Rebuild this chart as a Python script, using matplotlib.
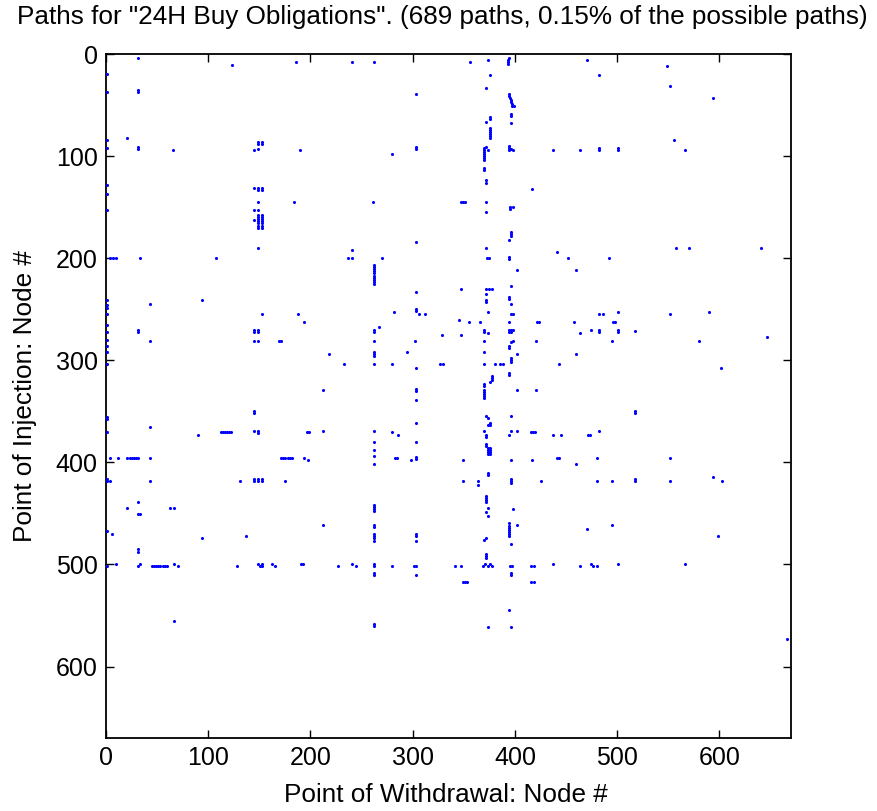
import matplotlib
matplotlib.use("Agg")
import matplotlib.pyplot as plt
import numpy as np

# (withdrawal node, injection node) pairs
paths_top = [
    (31,4),(123,11),(186,8),(241,8),
    (1,20),(1,37),(31,35),(31,37),(21,82),(1,84),(1,92),(31,91),(31,93),(66,94),(145,94),
    (149,86),(149,88),(153,86),(153,88),(149,93),(190,94),
    (1,128),(1,137),(1,153),(145,131),(149,131),(149,133),(153,131),(153,133),(149,145),(184,145),
    (145,153),(149,153),(145,163),
    (149,158),(149,160),(149,162),(149,164),(149,166),(149,168),(149,170),
    (153,158),(153,160),(153,162),(153,164),(153,166),(153,168),(153,170),
    (149,190),(241,192),(237,200),(241,200),(4,200),(7,200),(10,200),(33,200),(108,200),
    (262,8),(356,8),(374,6),(394,4),(393,6),(393,8),(393,10),(470,6),(376,21),(482,21),(372,33),(303,39),
    (394,39),(394,41),(395,43),(396,45),(396,47),(397,49),(397,51),(399,51),
    (396,59),(396,61),(396,68),(376,62),(376,64),(372,67),
    (376,72),(376,74),(376,76),(376,78),(376,80),(376,82),
    (303,91),(303,93),(280,98),
    (370,92),(370,94),(370,96),(370,98),(370,100),(370,102),(370,104),(372,91),(374,94),
    (394,90),(394,92),(396,93),(398,94),(394,94),
    (437,94),(464,94),(482,92),(482,94),
    (370,112),(370,114),(372,123),(372,126),(417,132),(261,145),(347,145),(349,145),(351,145),
    (372,145),(372,155),(395,150),(398,150),(395,152),
    (396,174),(396,176),(396,178),(394,182),(303,184),(372,190),(441,194),(452,200),(492,200),
    (270,200),(373,200),(375,200),(394,199),(394,201),(402,212),(460,212),
    (262,207),(262,209),(262,211),(262,213),(262,215),
    (549,12),(552,31),(594,43),(556,84),(566,94),(501,92),(501,94),(558,190),(570,190),(641,190),
]

paths_mid = [
    (1,241),(1,246),(1,249),(1,255),(1,265),(1,272),(1,280),(1,286),(1,292),(1,304),
    (43,245),(94,241),(31,270),(31,272),(43,281),(153,255),(188,255),(194,263),
    (145,270),(145,272),(149,270),(149,272),(145,281),(149,281),(169,281),(171,281),
    (218,294),(233,304),(212,329),
    (1,356),(1,358),(1,370),(145,350),(145,352),(43,365),(90,373),
    (112,370),(114,370),(116,370),(118,370),(120,370),(122,370),(145,369),(149,369),(149,371),
    (197,370),(199,370),(212,369),
    (4,396),(12,396),(21,396),(23,396),(25,396),(27,396),(29,396),(31,396),(43,396),
    (171,396),(173,396),(175,396),(178,396),(180,396),(182,396),(194,396),(198,398),
    (1,416),(1,418),(4,418),(43,418),(131,418),(145,416),(145,418),(149,416),(149,418),
    (153,416),(153,418),(175,418),
    (31,439),(21,445),(63,445),(67,445),
    (262,217),(262,219),(262,221),(262,223),(262,225),
    (303,233),(347,230),(372,230),(375,230),(378,230),(396,227),(372,235),(372,241),(372,243),
    (394,238),(394,240),(396,245),
    (282,253),(303,250),(303,252),(306,255),(312,255),(374,253),(396,255),(398,255),
    (345,261),(355,263),(366,263),(394,263),(422,263),(424,263),(458,263),(482,255),(486,255),
    (496,263),(498,263),
    (267,267),(262,270),(262,272),(329,275),(347,275),(370,270),(370,272),(374,273),
    (394,270),(396,270),(398,270),(394,272),(396,272),
    (464,273),(474,270),(482,270),(482,272),
    (262,281),(302,281),(370,281),(398,281),(396,282),(421,281),(495,281),
    (394,286),(394,288),(262,292),(262,294),(262,296),(294,292),(370,292),(402,294),(460,294),
    (396,298),(396,300),(396,302),
    (262,304),(280,304),(327,304),(330,304),(370,304),(380,304),(385,304),(388,304),(443,304),
    (303,308),(394,312),(394,314),(378,315),(378,317),(378,319),(376,321),(370,323),(370,325),
    (303,328),(303,330),(402,329),(421,329),
    (370,329),(370,331),(370,333),(370,335),(370,337),(303,339),
    (372,355),(374,357),(396,355),(374,363),(376,363),(376,361),(303,361),
    (262,369),(280,370),(286,373),(370,369),(396,369),(402,369),(416,370),(418,370),(420,370),
    (394,373),(437,373),(445,373),(471,373),(473,373),(482,369),
    (372,373),(372,375),(262,380),(303,380),(372,382),(372,384),(262,388),(262,394),
    (374,386),(374,388),(374,390),(374,392),(376,386),(376,388),(376,390),(376,392),
    (283,396),(285,396),(298,398),(303,395),(303,397),(349,398),(396,398),(417,398),
    (441,396),(443,396),(460,402),(480,396),(262,402),
    (374,410),(374,412),(349,418),(364,418),(396,416),(396,418),(396,420),(425,418),(480,418),
    (495,418),(364,422),
    (372,433),(372,435),(372,437),(372,439),(262,442),(262,444),(262,446),(374,445),(398,446),
    (501,253),(552,255),(590,253),(501,270),(501,272),(517,271),(580,281),(647,277),(602,308),
    (517,350),(517,352),(552,396),(517,416),(517,418),(552,418),(594,414),(603,418),
]

paths_low = [
    (31,451),(33,451),(212,461),(1,467),(6,470),(94,474),(137,472),(31,485),(31,488),
    (1,502),(10,500),(31,502),(33,500),(45,502),(47,502),(49,502),(51,502),(53,502),
    (56,502),(58,502),(60,502),(67,500),(70,502),(128,502),
    (149,500),(151,502),(153,502),(153,500),(162,500),(165,502),(191,500),(193,500),
    (227,502),(241,500),(245,502),(67,555),
    (262,448),(372,449),(374,453),
    (262,461),(262,463),(394,459),(402,461),(394,462),(394,464),(394,466),(394,468),(394,470),
    (394,472),(495,461),(470,465),
    (262,470),(262,472),(262,474),(262,477),(303,470),(303,472),(303,477),(372,474),(370,476),
    (396,480),(372,490),(372,492),(372,494),
    (262,500),(262,502),(280,502),(301,502),(303,502),(341,502),(347,502),
    (369,502),(371,500),(374,502),(376,500),(378,502),
    (395,502),(397,502),(416,502),(419,502),(437,500),(464,502),(474,500),(476,502),(480,502),
    (262,508),(262,510),(303,510),(396,508),(396,510),(349,517),(351,517),(353,517),
    (416,517),(419,517),
    (394,545),(262,558),(262,560),(374,561),(396,561),
    (599,472),(501,500),(566,500),(666,573),
]

x_ticks = [0, 100, 200, 300, 400, 500, 600]
y_ticks = [0, 100, 200, 300, 400, 500, 600]
n_nodes = 670

title_text = 'Paths for "24H Buy Obligations". (689 paths, 0.15% of the possible paths)'
xlabel_text = "Point of Withdrawal: Node #"
ylabel_text = "Point of Injection: Node #"

FONT = ["Liberation Sans", "DejaVu Sans"]
plt.rcParams["font.family"] = FONT

all_paths = np.array(paths_top + paths_mid + paths_low)

W, H = 878, 811
fig = plt.figure(figsize=(W / 100, H / 100), dpi=100)
ax = fig.add_axes([106 / W, (H - 738) / H, 685 / W, 684 / H])
ax.scatter(all_paths[:, 0], all_paths[:, 1], s=5, marker="o", color="#0000FF",
           linewidths=0, zorder=3)
ax.set_xlim(0, n_nodes)
ax.set_ylim(n_nodes, 0)
ax.set_xticks(x_ticks)
ax.set_yticks(y_ticks)
ax.tick_params(direction="in", length=6, width=1.0, top=True, right=True,
               labelsize=18, pad=6, colors="black")
for sp in ax.spines.values():
    sp.set_linewidth(1.3)
    sp.set_color("black")

fig.text(442 / W, 1 - 24 / H, title_text, ha="center", va="baseline", fontsize=18.8)
fig.text(446 / W, 1 - 802 / H, xlabel_text, ha="center", va="baseline", fontsize=18.8)
fig.text(25 / W, 1 - 396 / H, ylabel_text, ha="center", va="center", rotation=90,
         fontsize=18.8)

fig.savefig("out.png", dpi=100, facecolor="white")
